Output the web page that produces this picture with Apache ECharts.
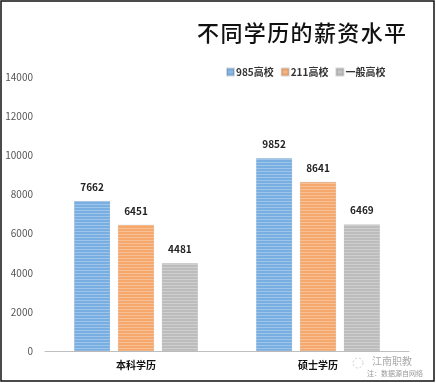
<!DOCTYPE html>
<html><head><meta charset="utf-8">
<script src="https://cdn.jsdelivr.net/npm/echarts@6/dist/echarts.min.js"></script>
<style>html,body{margin:0;padding:0;background:#fff}#c{width:436px;height:383px}</style>
</head><body><div id="c"></div>
<script>
const categories = ['本科学历', '硕士学历'];
const seriesNames = ['985高校', '211高校', '一般高校'];
const s985 = [7662, 9852];
const s211 = [6451, 8641];
const sGeneral = [4481, 6469];
const yTicks = [0, 2000, 4000, 6000, 8000, 10000, 12000, 14000];
const titleText = '不同学历的薪资水平';

const colors = ['#78aee2', '#f5a76c', '#bcbcbc'];
const stripe = {symbol:'rect', symbolSize:1, dashArrayX:[[1,0]], dashArrayY:[1,2], rotation:0, color:'rgba(255,255,255,0.28)'};
const font = '"Noto Sans CJK SC", "Noto Sans", sans-serif';
function mk(name, data, i){
  return {name, type:'bar', data, barGap:'22%', barCategoryGap:'32%',
    itemStyle:{color:colors[i], decal:stripe, borderColor:'rgba(0,0,0,0.08)', borderWidth:0.5},
    label:{show:true, position:'top', distance:9, color:'#222', fontWeight:'bold', fontSize:10, fontFamily:font}};
}
const chart = echarts.init(document.getElementById('c'));
chart.setOption({
  animation:false,
  color:colors,
  title:{text:titleText.split('').join('\u200a'), left:192, top:17, textStyle:{fontSize:22, fontWeight:500, color:'#111', fontFamily:'"Noto Sans CJK SC", serif'}},
  legend:{data:seriesNames, left:221, top:62, itemWidth:7, itemHeight:7, itemGap:7, icon:'rect',
    textStyle:{fontSize:10, fontWeight:'bold', color:'#333', fontFamily:font, padding:[0,0,0,-3]}},
  grid:{left:45, right:27, top:77, bottom:32, containLabel:false},
  xAxis:{type:'category', data:categories, axisTick:{show:false},
    axisLine:{lineStyle:{color:'#bfbfbf', width:1}},
    axisLabel:{color:'#111', fontWeight:'bold', fontSize:10, margin:9, fontFamily:font}},
  yAxis:{type:'value', min:yTicks[0], max:yTicks[yTicks.length-1], interval:2000,
    splitLine:{show:false}, axisLine:{show:false}, axisTick:{show:false},
    axisLabel:{color:'#555', fontSize:10, margin:12, fontFamily:font, formatter:v=>String(v)}},
  series:[mk(seriesNames[0], s985, 0), mk(seriesNames[1], s211, 1), mk(seriesNames[2], sGeneral, 2)],
  graphic:[
    {type:'rect', shape:{x:1, y:1, width:433, height:380}, style:{fill:'none', stroke:'#111', lineWidth:1.5}, silent:true},
    {type:'text', left:372, top:356, style:{text:'江南职教', fontSize:10, fill:'#aaa', fontFamily:font}},
    {type:'text', left:367, top:370, style:{text:'注：数据源自网络', fontSize:7, fill:'#999', fontFamily:font}},
    {type:'circle', shape:{cx:358, cy:363, r:5}, style:{fill:'none', stroke:'#ccc', lineWidth:1, lineDash:[2,2]}}
  ]
});
</script></body></html>
